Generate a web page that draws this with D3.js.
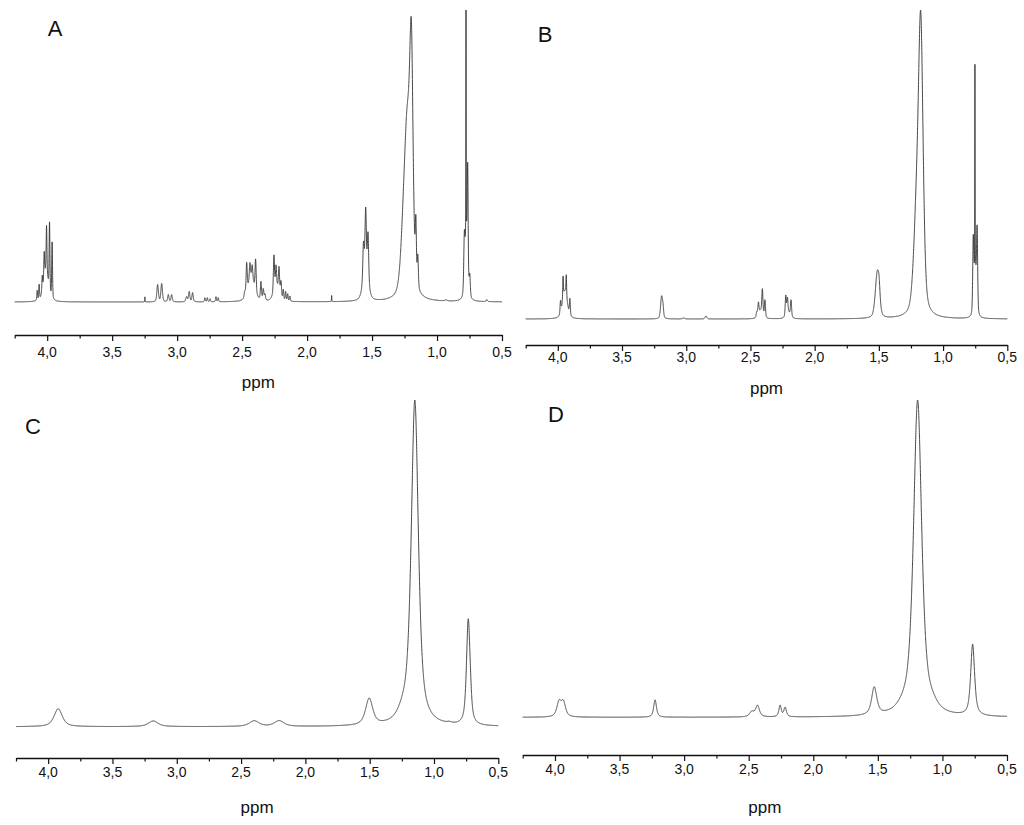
<!DOCTYPE html>
<meta charset="utf-8">
<title>1H NMR spectra A-D</title>
<style>
body {
  margin: 0;
  background: #fff;
}
text {
  font-family: "Liberation Sans", Arial, sans-serif;
  fill: #111;
}
.spectrum {
  fill: none;
  stroke: #333;
  stroke-width: 0.9px;
  stroke-linejoin: round;
}
.axis path, .axis line {
  stroke: #111;
}
</style>
<body>
<div id="chart"></div>

<script src="https://d3js.org/d3.v7.min.js"></script>
<script>
// Peak lists: [shift (ppm), intensity (a.u.), half width (ppm)]
const peaksA = [
  [4.010, 30, 0.022], [4.077, 10, 0.0035], [4.062, 15, 0.0035], [4.038, 15, 0.0035],
  [4.023, 26, 0.0035], [4.005, 46, 0.0035], [3.982, 68, 0.0035], [3.962, 56, 0.0035],
  [3.248, 5, 0.0015],
  [3.150, 17, 0.007], [3.119, 18, 0.007],
  [3.068, 7, 0.006], [3.042, 7, 0.006],
  [2.927, 5, 0.007], [2.907, 10, 0.006], [2.881, 9, 0.006],
  [2.786, 4, 0.004], [2.768, 4, 0.004], [2.747, 3, 0.004], [2.701, 5, 0.004], [2.684, 4, 0.004],
  [2.430, 24, 0.03], [2.480, 5, 0.005], [2.465, 29, 0.005], [2.440, 16, 0.005], [2.422, 13, 0.005],
  [2.396, 32, 0.005], [2.355, 18, 0.005], [2.337, 11, 0.005], [2.324, 6, 0.005],
  [2.235, 15, 0.025], [2.255, 36, 0.005], [2.239, 20, 0.005], [2.216, 24, 0.005], [2.201, 15, 0.005],
  [2.183, 10, 0.004], [2.165, 9, 0.004], [2.149, 7, 0.004], [2.132, 5, 0.004],
  [1.811, 6, 0.0015],
  [1.566, 36, 0.006], [1.549, 62, 0.006], [1.531, 48, 0.006], [1.550, 28, 0.024],
  [1.197, 205, 0.015], [1.228, 165, 0.028], [1.262, 35, 0.025], [1.163, 55, 0.005], [1.148, 30, 0.005],
  [0.777, 220, 0.0012], [0.764, 100, 0.004], [0.775, 65, 0.012], [0.790, 45, 0.005], [0.748, 20, 0.005],
  [0.930, 1, 0.01], [0.617, 2, 0.005]
];

const peaksB = [
  [3.945, 28, 0.022], [3.959, 22, 0.003], [3.934, 21, 0.003], [3.979, 12, 0.004], [3.906, 16, 0.004],
  [3.192, 22, 0.009], [3.181, 8, 0.006],
  [3.020, 1, 0.01], [2.846, 3, 0.008],
  [2.420, 8, 0.02], [2.451, 5, 0.005], [2.438, 12, 0.005], [2.407, 24, 0.005], [2.387, 17, 0.005],
  [2.205, 6, 0.02], [2.225, 20, 0.005], [2.212, 15, 0.005], [2.184, 16, 0.005],
  [1.512, 46, 0.018], [1.498, 12, 0.008],
  [1.174, 287, 0.022], [1.210, 80, 0.025],
  [0.752, 200, 0.0012], [0.765, 70, 0.005], [0.735, 80, 0.005], [0.750, 50, 0.010]
];

const peaksC = [
  [3.922, 17.5, 0.038],
  [3.183, 5.5, 0.045],
  [2.398, 5.5, 0.045], [2.204, 5.5, 0.045],
  [1.504, 26, 0.033],
  [1.149, 318, 0.033], [1.240, 8, 0.05],
  [0.880, 1, 0.02],
  [0.734, 100, 0.016], [0.718, 12, 0.012]
];

const peaksD = [
  [3.969, 14, 0.02], [3.935, 14, 0.02],
  [3.225, 17, 0.013],
  [2.476, 5, 0.02], [2.432, 11, 0.018],
  [2.257, 11, 0.011], [2.218, 9, 0.012],
  [1.528, 27, 0.024],
  [1.300, 4, 0.06], [1.192, 310, 0.038], [1.080, 5, 0.05],
  [0.766, 70, 0.018]
];

const ppmDomain = [4.25, 0.5];
const majorTicks = [4.0, 3.5, 3.0, 2.5, 2.0, 1.5, 1.0, 0.5];
const minorTicks = [4.25, 3.75, 3.25, 2.75, 2.25, 1.75, 1.25, 0.75];
const panelLetters = ["A", "B", "C", "D"];
const axisTitle = "ppm";

// layout of the four panels (pixels)
const panels = [
  { peaks: peaksA, eta: 0.4,  x0: 14.7,  x1: 502,    base: 302,   top: 10,  axisY: 335, labelY: 352, titleY: 382, lx: 55,  ly: 28 },
  { peaks: peaksB, eta: 0.4,  x0: 525.7, x1: 1007.3, base: 319,   top: 10,  axisY: 345, labelY: 357, titleY: 388, lx: 545, ly: 34 },
  { peaks: peaksC, eta: 0.7,  x0: 16,    x1: 498.3,  base: 726.7, top: 400, axisY: 758, labelY: 772, titleY: 807, lx: 33,  ly: 426 },
  { peaks: peaksD, eta: 0.7,  x0: 522.7, x1: 1007,   base: 717.3, top: 400, axisY: 755, labelY: 769, titleY: 807, lx: 556, ly: 414 }
];

const width = 1024;
const height = 825;

const fmt = d3.formatLocale({ decimal: ",", thousands: ".", grouping: [3], currency: ["", ""] }).format(".1f");

const svg = d3.select("#chart")
  .append("svg")
    .attr("width", width)
    .attr("height", height);

// pseudo-Voigt line shape
function lineShape(ppm, p, eta) {
  const t = (ppm - p[0]) / p[2];
  const lor = 1 / (1 + t * t);
  const gau = Math.exp(-Math.LN2 * t * t);
  return p[1] * (eta * lor + (1 - eta) * gau);
}

function spectrum(peaks, eta) {
  const xs = d3.range(ppmDomain[0], ppmDomain[1] - 1e-9, -0.0005)
    .concat(peaks.map(p => p[0]))
    .sort((a, b) => b - a);
  return xs.map(ppm => [ppm, d3.sum(peaks, p => lineShape(ppm, p, eta))]);
}

panels.forEach((p, i) => {
  const data = spectrum(p.peaks, p.eta);

  const x = d3.scaleLinear().domain(ppmDomain).range([p.x0, p.x1]);
  const y = d3.scaleLinear().domain([0, d3.max(data, d => d[1])]).range([p.base, p.top]);

  const g = svg.append("g");

  g.append("path")
      .attr("class", "spectrum")
      .attr("d", d3.line().x(d => x(d[0])).y(d => y(d[1]))(data));

  // minor ticks
  g.append("g")
      .attr("class", "axis")
      .attr("transform", `translate(0,${p.axisY})`)
      .call(d3.axisBottom(x).tickValues(minorTicks).tickSize(3.5).tickSizeOuter(0).tickFormat(""))
      .call(a => a.select(".domain").remove())
      .selectAll("line").attr("stroke-width", 1.2);

  // major ticks + axis line
  const ax = g.append("g")
      .attr("class", "axis")
      .attr("transform", `translate(0,${p.axisY})`)
      .call(d3.axisBottom(x).tickValues(majorTicks).tickSize(6).tickSizeOuter(0).tickFormat(""));
  ax.select(".domain").attr("stroke-width", 1.6);
  ax.selectAll(".tick line").attr("stroke-width", 1.2);

  g.selectAll(".tlabel")
    .data(majorTicks)
    .join("text")
      .attr("class", "tlabel")
      .attr("x", d => x(d))
      .attr("y", p.labelY)
      .attr("text-anchor", "middle")
      .attr("dominant-baseline", "central")
      .style("font-size", "14px")
      .text(d => fmt(d));

  g.append("text")
      .attr("x", (p.x0 + p.x1) / 2)
      .attr("y", p.titleY)
      .attr("text-anchor", "middle")
      .attr("dominant-baseline", "central")
      .style("font-size", "17px")
      .text(axisTitle);

  g.append("text")
      .attr("x", p.lx)
      .attr("y", p.ly)
      .attr("text-anchor", "middle")
      .attr("dominant-baseline", "central")
      .style("font-size", "22px")
      .text(panelLetters[i]);
});
</script>
</body>
</html>
